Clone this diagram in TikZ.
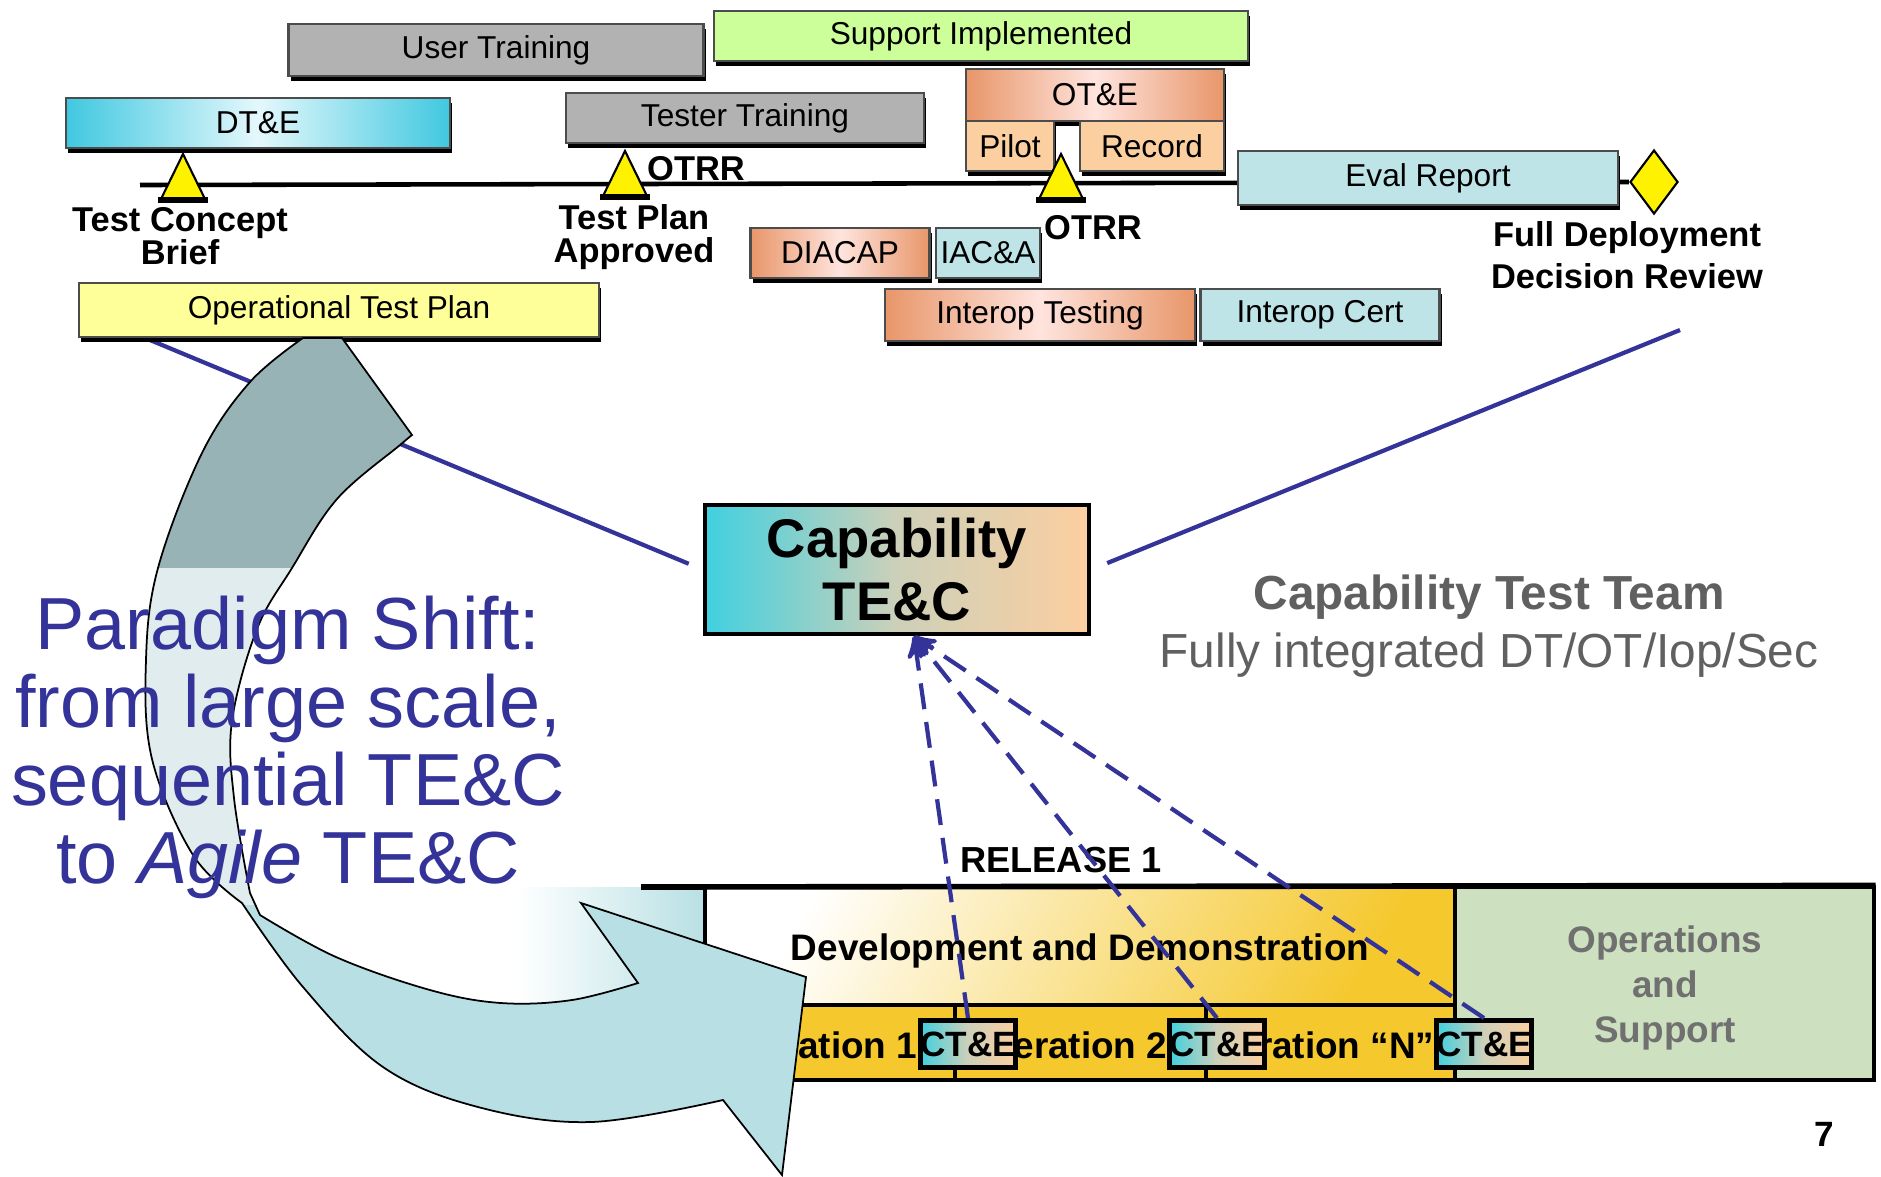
\documentclass[tikz,border=0pt]{standalone}
\usepackage{fontspec}
\setmainfont{Liberation Sans}
\usepackage{tikz}
\usetikzlibrary{positioning}
\usetikzlibrary{arrows,calc,shapes.geometric,shadows}
\definecolor{navy}{RGB}{51,51,153}
\definecolor{bargray}{RGB}{178,178,178}
\definecolor{bargreen}{RGB}{204,255,153}
\definecolor{baryellow}{RGB}{255,255,153}
\definecolor{barorange}{RGB}{232,150,105}
\definecolor{barpink}{RGB}{255,228,222}
\definecolor{dtcyan}{RGB}{64,200,224}
\definecolor{dtlight}{RGB}{228,248,252}
\definecolor{paleblue}{RGB}{190,228,232}
\definecolor{peach}{RGB}{252,207,160}
\definecolor{capcyan}{RGB}{64,208,224}
\definecolor{capmid}{RGB}{205,208,185}
\definecolor{gold}{RGB}{245,200,46}
\definecolor{opsgreen}{RGB}{205,225,192}
\definecolor{arrowtop}{RGB}{151,179,182}
\definecolor{arrowmid}{RGB}{205,224,226}
\definecolor{arrowlow}{RGB}{184,224,228}
\definecolor{teamgray}{RGB}{96,96,96}
\tikzset{
    chart/.style={x=0.1mm,y=-0.1mm,>=stealth'},
    bar/.style={rectangle, draw=black!70, line width=0.6pt, inner sep=0pt,
                font=\fontsize{9}{10}\selectfont,
                drop shadow={shadow xshift=0.2mm,shadow yshift=-0.5mm,fill=black,opacity=1}},
    orangebar/.style={bar, left color=barorange, right color=barorange, middle color=barpink},
    mstone/.style={fill=yellow, draw=black, line width=0.6pt},
    mlabel/.style={font=\bfseries\fontsize{9.8}{9.5}\selectfont, align=center, inner sep=0pt},
    tie/.style={navy, line width=1.2pt},
    feed/.style={navy, line width=1.2pt, dash pattern=on 2.6mm off 1.3mm, ->},
    cell/.style={rectangle, draw=black, line width=0.9pt, fill=gold, inner sep=0pt},
    ittext/.style={font=\bfseries\fontsize{10.5}{12}\selectfont, anchor=east, inner sep=0pt},
    ctbox/.style={rectangle, draw=black, line width=1.4pt, left color=capcyan, right color=peach,
                  middle color=capmid, minimum width=9.4mm, minimum height=4.7mm, inner sep=0pt,
                  font=\bfseries\fontsize{10}{11}\selectfont},
    }
\newcommand{\shiftarrow}{(342,338) -- (303,338)
  -- plot[smooth, tension=0.6] coordinates {(303,338) (250,382) (202,453) (158,568) (146,660) (152,759) (193,855) (242,903)}
  -- plot[smooth, tension=0.6] coordinates {(242,903) (303,987) (383,1067) (478,1107) (591,1122) (723,1100)}
  -- (782,1175) -- (806,977) -- (581,903) -- (638,983)
  -- plot[smooth, tension=0.6] coordinates {(638,983) (572,1000) (501,1003) (430,990) (336,957) (260,915)}
  -- plot[smooth, tension=0.6] coordinates {(250,893) (234,798) (232,721) (257,629) (292,568) (337,499) (400,445) (412,435)}
  -- cycle}
\begin{document}
\begin{tikzpicture}[chart]
    \useasboundingbox (0,0) rectangle (1881,1176);

    % timeline
    \node[diamond, fill=yellow, draw=black, line width=0.6pt, minimum width=4.8mm,
          minimum height=6.4mm, inner sep=0pt] (fdr) at (1654,182) {};
    \coordinate (tl) at (140,185);
    \draw[line width=1.3pt] (tl) -- (fdr.west);

    % ties to the capability box
    \node[rectangle, draw=black, line width=1.4pt, left color=capcyan, right color=peach,
          middle color=capmid, minimum width=38.4mm, minimum height=12.9mm, align=center,
          font=\bfseries\fontsize{15.5}{17.8}\selectfont] (cap) at (897,569.5) {Capability\\TE\&C};
    \coordinate (otpfoot) at (150,340);
    \coordinate (fddrfoot) at (1680,330);
    \coordinate (capfoot) at (914,636);
    \draw[tie, shorten >=1.5mm] (otpfoot) -- (cap.west);
    \draw[tie, shorten <=1.7mm] (cap.east) -- (fddrfoot);

    % schedule bars
    \node[bar, fill=bargray, minimum width=41.5mm, minimum height=5.2mm] (usertr) at (496,50) {User Training};
    \node[bar, fill=bargreen, minimum width=53.4mm, minimum height=5.0mm] (support) at (981,36) {Support Implemented};
    \node[bar, left color=dtcyan, right color=dtcyan, middle color=dtlight,
          minimum width=38.4mm, minimum height=5.0mm] (dte) at (258,123) {DT\&E};
    \node[bar, fill=bargray, minimum width=35.8mm, minimum height=5.0mm] (testertr) at (745,118) {Tester Training};
    \node[orangebar, minimum width=25.8mm, minimum height=5.2mm] (ote) at (1095,95) {OT\&E};
    \node[bar, fill=peach, minimum width=8.8mm, minimum height=5.0mm] (pilot) at (1010,146) {Pilot};
    \node[bar, fill=peach, minimum width=14.4mm, minimum height=5.0mm] (record) at (1152,146) {Record};
    \node[bar, fill=paleblue, minimum width=38mm, minimum height=5.4mm] (evalrep) at (1428,178) {Eval Report};
    \node[orangebar, minimum width=17.9mm, minimum height=5.0mm] (diacap) at (840,253) {DIACAP};
    \node[bar, fill=paleblue, minimum width=10.4mm, minimum height=5.0mm] (iaca) at (988,253) {IAC\&A};
    \node[orangebar, minimum width=31mm, minimum height=5.2mm] (interopt) at (1040,315) {Interop Testing};
    \node[bar, fill=paleblue, minimum width=23.9mm, minimum height=5.2mm] (interopc) at (1320,315) {Interop Cert};
    \node[bar, fill=baryellow, minimum width=52mm, minimum height=5.4mm] (otp) at (339,310) {Operational Test Plan};

    % milestones
    \coordinate (m1) at (183,199);
    \coordinate (m2) at (625,196);
    \coordinate (m3) at (1061,199);
    \foreach \m in {m1,m2,m3} {
        \draw[mstone] (\m) -- ++(22,0) -- ++(-22,-45) -- ++(-22,45) -- cycle;
        \draw[line width=1.8pt] (\m) ++(-25,1) -- ++(50,0);
    }
    \node[mlabel] (tcb) at (180,236) {Test Concept\\Brief};
    \node[mlabel] (tpa) at (634,237) {Test Plan\\Approved};
    \node[mlabel] (otrr1) at (696,169) {OTRR};
    \node[mlabel] (otrr2) at (1093,228) {OTRR};
    \node[mlabel, font=\bfseries\fontsize{9.8}{12}\selectfont] (fddr) at (1627,255) {Full Deployment\\Decision Review};

    % release band
    \fill[left color=white, right color=arrowlow] (516,887) rectangle (705,1005);
    \node[rectangle, draw=black, line width=0.9pt, top color=white, bottom color=gold,
          shading angle=60, minimum width=75mm, minimum height=11.8mm] (devdem) at (1080,946) {};
    \node[font=\bfseries\fontsize{10.5}{12}\selectfont] (devtext) at (1080,951) {Development and Demonstration};
    \node[cell, minimum width=25mm, minimum height=7.5mm] (it1) at (830,1042.5) {};
    \node[cell, minimum width=25.1mm, minimum height=7.5mm] (it2) at (1080.5,1042.5) {};
    \node[cell, minimum width=24.9mm, minimum height=7.5mm] (it3) at (1330.5,1042.5) {};
    \node[rectangle, draw=black, line width=0.9pt, fill=opsgreen, minimum width=41.9mm,
          minimum height=19.3mm, inner sep=0pt] (ops) at (1664.5,983.5) {};
    \node[align=center, text=teamgray!90, font=\bfseries\fontsize{10.5}{12.8}\selectfont]
          (opstext) at (1665,988) {Operations\\and\\Support};
    \coordinate (bandstart) at (641,887);
    \draw[line width=1.6pt] (bandstart) -- (ops.north east);
    \node[font=\bfseries\fontsize{10.3}{12}\selectfont] (release) at (1061,860) {RELEASE 1};

    \node[ittext] (it1text) at (918,1045) {Iteration 1};
    \node[ittext] (it2text) at (1168,1045) {Iteration 2};
    \node[ittext] (it3text) at (1435,1045) {Iteration “N”};
    \node[ctbox] (ct1) at (968,1044) {CT\&E};
    \node[ctbox] (ct2) at (1217,1044) {CT\&E};
    \node[ctbox] (ct3) at (1484,1044) {CT\&E};
    \draw[feed] (ct1.north) -- (capfoot);
    \draw[feed] (ct2.north) -- (capfoot);
    \draw[feed] (ct3.north) -- (capfoot);

    % the shift arrow
    \begin{scope}
        \clip \shiftarrow;
        \fill[arrowtop] (0,300) rectangle (900,568);
        \fill[arrowmid, opacity=0.6] (0,568) rectangle (900,905);
        \fill[arrowlow] (0,905) rectangle (900,1176);
    \end{scope}
    \draw[line width=0.5pt] \shiftarrow;

    \node[text=navy, align=center, font=\fontsize{21}{22.2}\selectfont] (shift) at (288,747)
        {Paradigm Shift:\\from large scale,\\sequential TE\&C\\to \textit{Agile} TE\&C};

    \node[text=teamgray, font=\bfseries\fontsize{13.6}{15}\selectfont] (team) at (1489,597) {Capability Test Team};
    \node[text=teamgray, font=\fontsize{13.6}{15}\selectfont] (teamsub) at (1489,655) {Fully integrated DT/OT/Iop/Sec};
    \node[font=\bfseries\fontsize{10}{12}\selectfont] (pgno) at (1824,1134) {7};
\end{tikzpicture}
\end{document}
